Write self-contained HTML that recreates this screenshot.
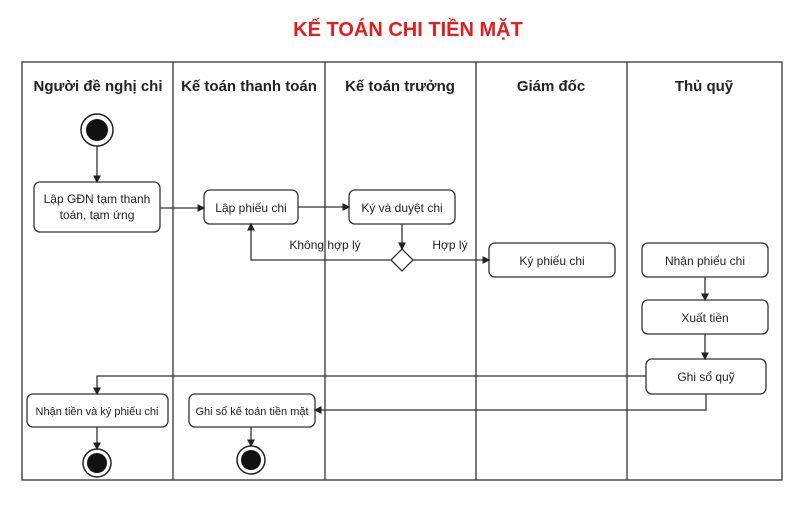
<!DOCTYPE html>
<html><head><meta charset="utf-8"><style>
body{margin:0;width:800px;height:500px;background:#fff;overflow:hidden}
svg text{font-family:"Liberation Sans",sans-serif;fill:#222}
</style></head><body>
<svg width="800" height="500" viewBox="0 0 800 500" xmlns="http://www.w3.org/2000/svg">
<defs><marker id="a" markerWidth="6" markerHeight="6" refX="5" refY="3" orient="auto"><path d="M0,0 L6,3 L0,6 z" fill="#222"/></marker></defs>
<text x="408" y="36" text-anchor="middle" font-size="20" font-weight="bold" style="fill:#e02020">KẾ TOÁN CHI TIỀN MẶT</text>
<g stroke="#333" stroke-width="1.3" fill="none">
<rect x="22" y="62" width="760" height="418"/>
<line x1="173" y1="62" x2="173" y2="480"/><line x1="325" y1="62" x2="325" y2="480"/>
<line x1="476" y1="62" x2="476" y2="480"/><line x1="627" y1="62" x2="627" y2="480"/>
</g>
<g font-size="15" font-weight="bold" text-anchor="middle">
<text x="98" y="91">Người đề nghị chi</text><text x="249" y="91">Kế toán thanh toán</text>
<text x="400" y="91">Kế toán trưởng</text><text x="551" y="91">Giám đốc</text><text x="704" y="91">Thủ quỹ</text>
</g>
<circle cx="97" cy="130" r="16" fill="#fff" stroke="#222" stroke-width="1.5"/><circle cx="97" cy="130" r="11" fill="#111"/>
<g stroke="#333" stroke-width="1.3" fill="#fff">
<rect x="34" y="182" width="126" height="50" rx="6"/>
<rect x="204" y="190" width="94" height="34" rx="6"/>
<rect x="349" y="190" width="106" height="34" rx="6"/>
<rect x="489" y="243" width="126" height="34" rx="6"/>
<rect x="642" y="243" width="126" height="34" rx="6"/>
<rect x="642" y="300" width="126" height="34" rx="6"/>
<rect x="646" y="359" width="120" height="35" rx="6"/>
<rect x="27" y="394" width="141" height="33" rx="6"/>
<rect x="189" y="394" width="126" height="33" rx="6"/>
<path d="M402,249 L413,260 L402,271 L391,260 Z"/>
</g>
<g stroke="#333" stroke-width="1.3" fill="none" marker-end="url(#a)">
<line x1="97" y1="146" x2="97" y2="182"/>
<line x1="160" y1="208" x2="204" y2="208"/>
<line x1="298" y1="207" x2="349" y2="207"/>
<line x1="402" y1="224" x2="402" y2="249"/>
<polyline points="391,260 251,260 251,224"/>
<line x1="413" y1="260" x2="489" y2="260"/>
<line x1="705" y1="277" x2="705" y2="300"/>
<line x1="705" y1="334" x2="705" y2="359"/>
<polyline points="646,376 97,376 97,394"/>
<polyline points="706,394 706,410 315,410"/>
<line x1="97" y1="427" x2="97" y2="449"/>
<line x1="251" y1="427" x2="251" y2="446"/>
</g>
<circle cx="97" cy="463" r="14" fill="#fff" stroke="#222" stroke-width="1.5"/><circle cx="97" cy="463" r="10" fill="#111"/>
<circle cx="251" cy="460" r="14" fill="#fff" stroke="#222" stroke-width="1.5"/><circle cx="251" cy="460" r="10" fill="#111"/>
<g font-size="12" text-anchor="middle">
<text x="97" y="203">Lập GĐN tạm thanh</text><text x="97" y="219">toán, tạm ứng</text>
<text x="251" y="212">Lập phiếu chi</text>
<text x="402" y="212">Ký và duyệt chi</text>
<text x="552" y="265">Ký phiếu chi</text>
<text x="705" y="265">Nhận phiếu chi</text>
<text x="705" y="322">Xuất tiền</text>
<text x="706" y="381">Ghi sổ quỹ</text>
<text x="97" y="415" font-size="11">Nhận tiền và ký phiếu chi</text>
<text x="252" y="415" font-size="11">Ghi sổ kế toán tiền mặt</text>
<text x="325" y="249">Không hợp lý</text>
<text x="450" y="249">Hợp lý</text>
</g>
</svg>
</body></html>
